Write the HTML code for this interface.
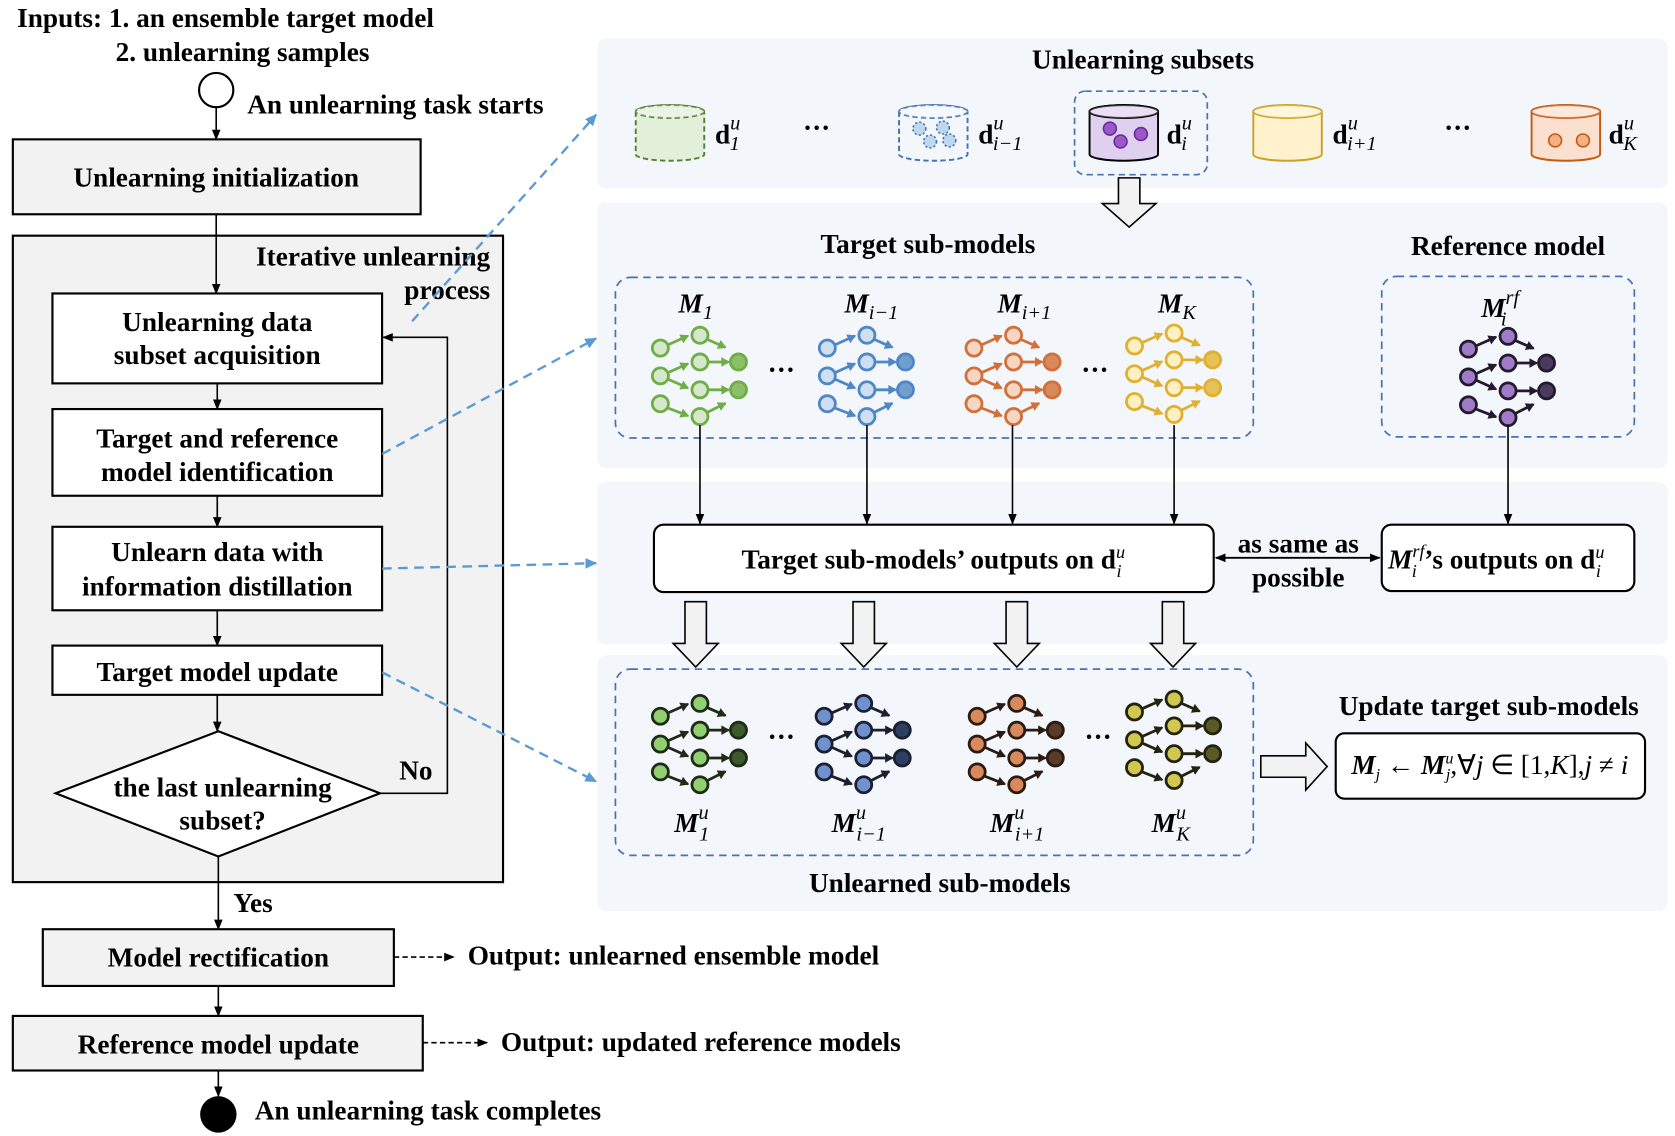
<!DOCTYPE html>
<html><head><meta charset="utf-8">
<style>
html,body{margin:0;padding:0;background:#fff;}
svg{display:block;}
text{font-family:"Liberation Serif",serif;font-weight:bold;font-size:25.5px;fill:#000;}
.it{font-style:italic;}
.nb{font-weight:normal;}
</style></head><body>
<svg id="s" width="1675" height="1136" viewBox="0 0 1565 1061" xmlns="http://www.w3.org/2000/svg">
<defs>
<marker id="ah" markerWidth="10" markerHeight="10" refX="9" refY="5" orient="auto" markerUnits="userSpaceOnUse"><path d="M0,1 L10,5 L0,9 z" fill="#000"/></marker>
<marker id="ahs" markerWidth="10" markerHeight="10" refX="1" refY="5" orient="auto" markerUnits="userSpaceOnUse"><path d="M10,1 L0,5 L10,9 z" fill="#000"/></marker>
<marker id="bh" markerWidth="12" markerHeight="12" refX="10" refY="6" orient="auto" markerUnits="userSpaceOnUse"><path d="M0,1 L11,6 L0,11 z" fill="#5b9bd5"/></marker>
</defs>
<rect x="558" y="36" width="1000" height="140" rx="8" fill="#f3f6fb"/>
<rect x="558" y="189" width="1000" height="248" rx="8" fill="#f3f6fb"/>
<rect x="558" y="450" width="1000" height="152" rx="8" fill="#f3f6fb"/>
<rect x="558" y="612" width="1000" height="239" rx="8" fill="#f3f6fb"/>

<text x="16" y="25">Inputs: 1. an ensemble target model</text>
<text x="108" y="57">2. unlearning samples</text>
<circle cx="202" cy="84" r="16" fill="#fff" stroke="#000" stroke-width="2"/>
<text x="231" y="106">An unlearning task starts</text>
<line x1="202" y1="100" x2="202" y2="130" stroke="#000" stroke-width="1.5" marker-end="url(#ah)"/>
<rect x="12" y="130" width="381" height="70" fill="#f2f2f2" stroke="#000" stroke-width="2"/>
<text x="202" y="174" text-anchor="middle">Unlearning initialization</text>
<rect x="12" y="220" width="458" height="604" fill="#f2f2f2" stroke="#000" stroke-width="2"/>
<line x1="202" y1="200" x2="202" y2="274" stroke="#000" stroke-width="1.5" marker-end="url(#ah)"/>
<text x="458" y="248" text-anchor="end">Iterative unlearning</text>
<text x="458" y="279" text-anchor="end">process</text>
<rect x="49" y="274" width="308" height="84" fill="#fff" stroke="#000" stroke-width="2"/>
<text x="203" y="309" text-anchor="middle">Unlearning data</text>
<text x="203" y="340" text-anchor="middle">subset acquisition</text>
<line x1="203" y1="358" x2="203" y2="382" stroke="#000" stroke-width="1.5" marker-end="url(#ah)"/>
<rect x="49" y="382" width="308" height="81" fill="#fff" stroke="#000" stroke-width="2"/>
<text x="203" y="418" text-anchor="middle">Target and reference</text>
<text x="203" y="449" text-anchor="middle">model identification</text>
<line x1="203" y1="463" x2="203" y2="492" stroke="#000" stroke-width="1.5" marker-end="url(#ah)"/>
<rect x="49" y="492" width="308" height="78" fill="#fff" stroke="#000" stroke-width="2"/>
<text x="203" y="524" text-anchor="middle">Unlearn data with</text>
<text x="203" y="556" text-anchor="middle">information distillation</text>
<line x1="203" y1="570" x2="203" y2="603" stroke="#000" stroke-width="1.5" marker-end="url(#ah)"/>
<rect x="49" y="603" width="308" height="46" fill="#fff" stroke="#000" stroke-width="2"/>
<text x="203" y="636" text-anchor="middle">Target model update</text>
<line x1="203" y1="649" x2="203" y2="683" stroke="#000" stroke-width="1.5" marker-end="url(#ah)"/>
<polygon points="204,683 355,741 204,800 52,741" fill="#fff" stroke="#000" stroke-width="2"/>
<text x="208" y="744" text-anchor="middle">the last unlearning</text>
<text x="208" y="775" text-anchor="middle">subset?</text>
<polyline points="355,741 418,741 418,315 358,315" fill="none" stroke="#000" stroke-width="1.5" marker-end="url(#ah)"/>
<text x="373" y="728">No</text>
<line x1="204" y1="800" x2="204" y2="868" stroke="#000" stroke-width="1.5" marker-end="url(#ah)"/>
<text x="218" y="852">Yes</text>
<rect x="40" y="868" width="328" height="53" fill="#f2f2f2" stroke="#000" stroke-width="2"/>
<text x="204" y="903" text-anchor="middle">Model rectification</text>
<line x1="368" y1="894" x2="424" y2="894" stroke="#000" stroke-width="1.5" stroke-dasharray="5,3" marker-end="url(#ah)"/>
<text x="437" y="901">Output: unlearned ensemble model</text>
<line x1="204" y1="921" x2="204" y2="949" stroke="#000" stroke-width="1.5" marker-end="url(#ah)"/>
<rect x="12" y="949" width="383" height="51" fill="#f2f2f2" stroke="#000" stroke-width="2"/>
<text x="204" y="984" text-anchor="middle">Reference model update</text>
<line x1="395" y1="974" x2="455" y2="974" stroke="#000" stroke-width="1.5" stroke-dasharray="5,3" marker-end="url(#ah)"/>
<text x="468" y="982">Output: updated reference models</text>
<line x1="204" y1="1000" x2="204" y2="1024" stroke="#000" stroke-width="1.5" marker-end="url(#ah)"/>
<circle cx="204" cy="1041" r="17" fill="#000"/>
<text x="238" y="1046">An unlearning task completes</text>

<g stroke="#5b9bd5" stroke-width="2.2" stroke-dasharray="9,6" fill="none">
<line x1="385" y1="300" x2="557" y2="107" marker-end="url(#bh)"/>
<line x1="357" y1="424" x2="557" y2="316" marker-end="url(#bh)"/>
<line x1="357" y1="531" x2="557" y2="526" marker-end="url(#bh)"/>
<line x1="357" y1="628" x2="557" y2="730" marker-end="url(#bh)"/>
</g>

<text x="1068" y="64" text-anchor="middle">Unlearning subsets</text>
<rect x="1004" y="85" width="124" height="78" rx="10" fill="none" stroke="#4a72b0" stroke-width="1.6" stroke-dasharray="6,4"/>
<g id="cyl"></g>
<text x="763" y="128" text-anchor="middle">···</text>
<text x="1362" y="128" text-anchor="middle">···</text>
<g id="dlabels"></g>
<polygon points="1045,166 1065,166 1065,190 1080,190 1055,212 1030,190 1045,190" fill="#f2f2f2" stroke="#000" stroke-width="1.5"/>

<text x="867" y="236" text-anchor="middle">Target sub-models</text>
<text x="1409" y="238" text-anchor="middle">Reference model</text>
<rect x="575" y="259" width="596" height="150" rx="14" fill="none" stroke="#4a72b0" stroke-width="1.6" stroke-dasharray="7,5"/>
<rect x="1291" y="258" width="236" height="150" rx="14" fill="none" stroke="#4a72b0" stroke-width="1.6" stroke-dasharray="7,5"/>
<text x="730" y="354" text-anchor="middle">···</text>
<text x="1023" y="354" text-anchor="middle">···</text>
<g id="nets"></g>
<g id="mlabels"></g>
<g stroke="#000" stroke-width="1.5">
<line x1="654" y1="397" x2="654" y2="489" marker-end="url(#ah)"/>
<line x1="810" y1="397" x2="810" y2="489" marker-end="url(#ah)"/>
<line x1="946" y1="397" x2="946" y2="489" marker-end="url(#ah)"/>
<line x1="1097" y1="397" x2="1097" y2="489" marker-end="url(#ah)"/>
<line x1="1409" y1="397" x2="1409" y2="489" marker-end="url(#ah)"/>
</g>

<rect x="611" y="490" width="523" height="63" rx="9" fill="#fff" stroke="#000" stroke-width="2"/>
<text x="872" y="531" text-anchor="middle">Target sub-models’ outputs on d<tspan class="it nb" dy="-10" font-size="17">u</tspan><tspan class="it nb" dx="-8" dy="18" font-size="17">i</tspan></text>
<line x1="1136" y1="521" x2="1289" y2="521" stroke="#000" stroke-width="1.8" marker-start="url(#ahs)" marker-end="url(#ah)"/>
<text x="1213" y="516" text-anchor="middle">as same as</text>
<text x="1213" y="548" text-anchor="middle">possible</text>
<rect x="1291" y="490" width="236" height="62" rx="9" fill="#fff" stroke="#000" stroke-width="2"/>
<text x="1297" y="531"><tspan class="it">M</tspan><tspan class="it nb" dy="-11" font-size="17">rf</tspan><tspan class="it nb" dx="-12" dy="19" font-size="17">i</tspan><tspan dx="7" dy="-8">’s outputs on d</tspan><tspan class="it nb" dy="-10" font-size="17">u</tspan><tspan class="it nb" dx="-8" dy="18" font-size="17">i</tspan></text>
<g id="barrows"></g>

<rect x="575" y="625" width="596" height="174" rx="14" fill="none" stroke="#4a72b0" stroke-width="1.6" stroke-dasharray="7,5"/>
<text x="730" y="697" text-anchor="middle">···</text>
<text x="1026" y="697" text-anchor="middle">···</text>
<text x="878" y="833" text-anchor="middle">Unlearned sub-models</text>
<text x="1391" y="668" text-anchor="middle">Update target sub-models</text>
<polygon points="1178,706 1220,706 1220,694 1240,716 1220,738 1220,726 1178,726" fill="#f2f2f2" stroke="#000" stroke-width="1.5"/>
<rect x="1248" y="685" width="289" height="61" rx="8" fill="#fff" stroke="#000" stroke-width="2"/>
<text x="1392" y="723" text-anchor="middle" class="nb" font-size="23"><tspan class="it" font-weight="bold">M</tspan><tspan class="it" font-size="15" dy="5">j</tspan><tspan dy="-5"> ← </tspan><tspan class="it" font-weight="bold">M</tspan><tspan class="it" font-size="15" dy="-10">u</tspan><tspan class="it" font-size="15" dx="-7" dy="15">j</tspan><tspan dy="-5">,∀</tspan><tspan class="it">j</tspan><tspan> ∈ [1,</tspan><tspan class="it">K</tspan><tspan>],</tspan><tspan class="it">j</tspan><tspan> ≠ </tspan><tspan class="it">i</tspan></text>
</svg>
<script>
var NS="http://www.w3.org/2000/svg";
function el(p,tag,a){var e=document.createElementNS(NS,tag);for(var k in a)e.setAttribute(k,a[k]);p.appendChild(e);return e;}
var cg=document.getElementById('cyl');
function cyl(cx,top,w,h,stroke,fill,dash,circles,cfill,cstroke,cdash){
  var rx=w/2,ry=6,bot=top+h;
  var g=el(cg,'g',{});
  var d='M'+(cx-rx)+','+top+' L'+(cx-rx)+','+bot+' A'+rx+','+ry+' 0 0 0 '+(cx+rx)+','+bot+' L'+(cx+rx)+','+top;
  el(g,'path',{d:d+' A'+rx+','+ry+' 0 0 0 '+(cx-rx)+','+top,fill:fill,stroke:stroke,'stroke-width':1.8,'stroke-dasharray':dash});
  el(g,'ellipse',{cx:cx,cy:top,rx:rx,ry:ry,fill:fill,stroke:stroke,'stroke-width':1.8,'stroke-dasharray':dash});
  el(g,'ellipse',{cx:cx,cy:top,rx:rx,ry:ry,fill:'#fff','fill-opacity':0.3,stroke:'none'});
  circles.forEach(function(c){el(g,'circle',{cx:cx+c[0],cy:top+c[1],r:c[2]||6,fill:cfill,stroke:cstroke,'stroke-width':1.5,'stroke-dasharray':cdash||''});});
}
cyl(626,104,64,40,'#548235','#e2efd9','5,3',[],'','');
cyl(872,104,64,40,'#4a72b0','#f3f6fb','5,3',[[-13,16,6],[9,15,6],[-3,28,6],[15,27,6]],'#bdd7ee','#4a72b0','2,2');
cyl(1050,104,64,40,'#000','#e0d0f0','',[[-13,16,6],[16,21,6],[-3,28,6]],'#9b59c8','#6a2b9a');
cyl(1203,104,64,40,'#c9a227','#fff2cc','',[],'','');
cyl(1463,104,64,40,'#c55a11','#fbe0d0','',[[-10,27,6],[16,27,6]],'#f4b183','#c55a11');
var dl=document.getElementById('dlabels');
function dlab(x,sub){var t=el(dl,'text',{x:x,y:134,'font-size':29});
 t.innerHTML='d<tspan class="it nb" font-size="19" dy="-13">u</tspan><tspan class="it nb" font-size="19" dx="-10" dy="19">'+sub+'</tspan>';}
dlab(668,'1');dlab(914,'i−1');dlab(1090,'i');dlab(1245,'i+1');dlab(1503,'K');
var ng=document.getElementById('nets');
function arrow(g,x1,y1,x2,y2,c){
  el(g,'line',{x1:x1,y1:y1,x2:x2,y2:y2,stroke:c,'stroke-width':2.6,'stroke-linecap':'round'});
  var a=Math.atan2(y2-y1,x2-x1),L=6,W=4.5;
  var bx=x2-L*Math.cos(a),by=y2-L*Math.sin(a);
  el(g,'polygon',{points:(x2+2*Math.cos(a))+','+(y2+2*Math.sin(a))+' '+(bx-W*Math.sin(a))+','+(by+W*Math.cos(a))+' '+(bx+W*Math.sin(a))+','+(by-W*Math.cos(a)),fill:c});
}
function net(ox,oy,st,fl,of){
  var g=el(ng,'g',{});
  var L1=[[0,12],[0,38],[0,64]],L2=[[37,0],[37,25],[37,51],[37,76]],L3=[[73,25],[73,51]];
  var A=[[7,9,25,1],[7,35,25,27],[7,41,25,49],[7,68,25,75],[44,4,60,11],[45,25,63,25],[45,51,63,51],[44,72,60,64]];
  A.forEach(function(a){arrow(g,ox+a[0],oy+a[1],ox+a[2],oy+a[3],st);});
  L1.concat(L2).forEach(function(p){el(g,'circle',{cx:ox+p[0],cy:oy+p[1],r:7.5,fill:fl,stroke:st,'stroke-width':2.6});});
  L3.forEach(function(p){el(g,'circle',{cx:ox+p[0],cy:oy+p[1],r:7.5,fill:of,stroke:st,'stroke-width':2.6});});
}
net(617,313,'#70ad47','#d5e8cc','#8cc068');
net(773,313,'#4f86c6','#cddff0','#6f9fd0');
net(910,313,'#d0703a','#f6d6c3','#d88a5c');
net(1060,311,'#e0b030','#fff0c4','#e8c058');
net(1372,314,'#231a2e','#a07cc8','#4a3a5e');
net(617,657,'#1f2a18','#90d070','#3c5a2c');
net(770,657,'#1a2030','#7090d0','#2f3f60');
net(913,657,'#2a1a12','#d88a5c','#5a3a28');
net(1060,653,'#22220e','#d0c850','#5a5a28');
var ml=document.getElementById('mlabels');
function mlab(x,y,sup,sub){var t=el(ml,'text',{x:x,y:y,'font-size':27});
 var h='<tspan class="it">M</tspan>';
 if(sup){h+='<tspan class="it nb" font-size="19" dy="-12">'+sup+'</tspan><tspan class="it nb" font-size="19" dx="-'+(sup.length*8+1)+'" dy="20">'+sub+'</tspan>';}
 else h+='<tspan class="it nb" font-size="19" dy="6">'+sub+'</tspan>';
 t.innerHTML=h;}
mlab(634,292,null,'1');mlab(789,292,null,'i−1');mlab(932,292,null,'i+1');mlab(1082,292,null,'K');
mlab(1384,296,'rf','i');
mlab(630,777,'u','1');mlab(777,777,'u','i−1');mlab(925,777,'u','i+1');mlab(1076,777,'u','K');
var bg=document.getElementById('barrows');
[650,807,950,1096].forEach(function(x){
  el(bg,'polygon',{points:(x-10)+',562 '+(x+10)+',562 '+(x+10)+',601 '+(x+21)+',601 '+x+',623 '+(x-21)+',601 '+(x-10)+',601',fill:'#f2f2f2',stroke:'#000','stroke-width':1.5});
});
</script>
</body></html>
